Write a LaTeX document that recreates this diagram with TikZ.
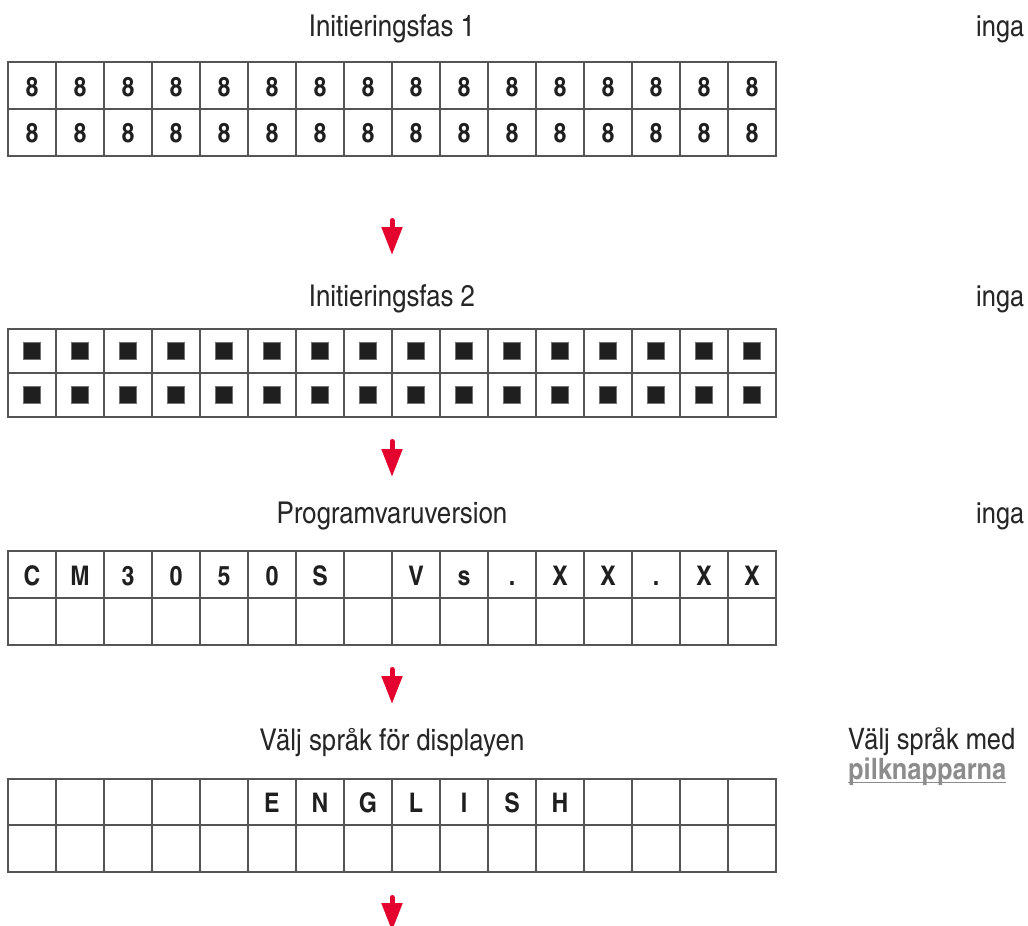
\documentclass[tikz,border=0pt]{standalone}
\usepackage{fontspec}
\setmainfont{texgyreheroscn}[Extension=.otf, UprightFont=*-regular, BoldFont=*-bold, FakeStretch=1.05]
\usetikzlibrary{arrows.meta,positioning}

\definecolor{lcdred}{HTML}{E4032E}
\definecolor{gridgray}{HTML}{555555}
\definecolor{keygray}{HTML}{8C8C8C}

% frame of one 16x2 display: top, middle and bottom line
\newcommand{\lcdframe}[3]{%
  \draw[gridline] (8,#1) rectangle (776,#3);
  \draw[gridline] (8,#2) -- (776,#2);
  \foreach \c in {1,...,15}
    \draw[gridline] (8+48*\c,#1) -- (8+48*\c,#3);
}

\begin{document}
\begin{tikzpicture}[x=1pt, y=-1pt,
        gridline/.style = {gridgray, line width=1.8pt},
        title/.style = {font=\fontsize{30}{35}\selectfont, text=black!85, anchor=base, inner sep=0pt},
        hint/.style = {title, anchor=base west, font=\fontsize{29.5}{34}\selectfont},
        cell/.style = {font=\bfseries\fontsize{27}{31}\selectfont, text=black!88, anchor=base, inner sep=0pt},
        pixel/.style = {fill=black!88, draw=black!55, line width=0.6pt, minimum size=17pt, inner sep=0pt},
        flow/.style = {lcdred, line width=5pt, line cap=round, -{Triangle[width=20pt,length=28pt]}}
    ]
    \useasboundingbox (0,0) rectangle (1028,926);

    % titles and remarks
    \node[title] (t1) at (392,36) {Initieringsfas 1};
    \node[title] (t2) at (392,306) {Initieringsfas 2};
    \node[title] (t3) at (392,523) {Programvaruversion};
    \node[title] (t4) at (392,750) {Välj språk för displayen};
    \node[hint] (r1) at (976,36) {inga};
    \node[hint] (r2) at (976,306) {inga};
    \node[hint] (r3) at (976,523) {inga};
    \node[hint] (r4) at (848,749) {Välj språk med};
    \node[hint, font=\bfseries\fontsize{29.5}{34}\selectfont, text=keygray] (key) at (848,779) {pilknapparna};
    \draw[keygray, line width=1.8pt] ([yshift=-3.5pt]key.base west) -- ([yshift=-3.5pt]key.base east);

    % display 1
    \lcdframe{62}{109}{156}
    \foreach \i in {1,...,16} {
        \node[cell] (da\i) at (48*\i-16,96) {8};
        \node[cell] (db\i) at (48*\i-16,142) {8};
    }

    % display 2
    \lcdframe{329}{373}{417}
    \foreach \i in {1,...,16} {
        \node[pixel] (pa\i) at (48*\i-16,351) {};
        \node[pixel] (pb\i) at (48*\i-16,395) {};
    }

    % display 3
    \lcdframe{551}{598}{645}
    \foreach \ch [count=\i] in {C,M,3,0,5,0,S,{},V,s,.,X,X,.,X,X}
        \node[cell] (v\i) at (48*\i-16,585) {\ch};

    % display 4
    \lcdframe{779}{825}{872}
    \foreach \ch [count=\i from 6] in {E,N,G,L,I,S,H}
        \node[cell] (e\i) at (48*\i-16,812) {\ch};

    % flow arrows
    \coordinate (a1) at (392,220.5);
    \coordinate (b1) at (392,255);
    \coordinate (a2) at (392,441.5);
    \coordinate (b2) at (392,477);
    \coordinate (a3) at (392,669.5);
    \coordinate (b3) at (392,704);
    \coordinate (a4) at (392,897.5);
    \coordinate (b4) at (392,931);
    \foreach \k in {1,...,4}
        \draw[flow] (a\k) -- (b\k);
\end{tikzpicture}
\end{document}
